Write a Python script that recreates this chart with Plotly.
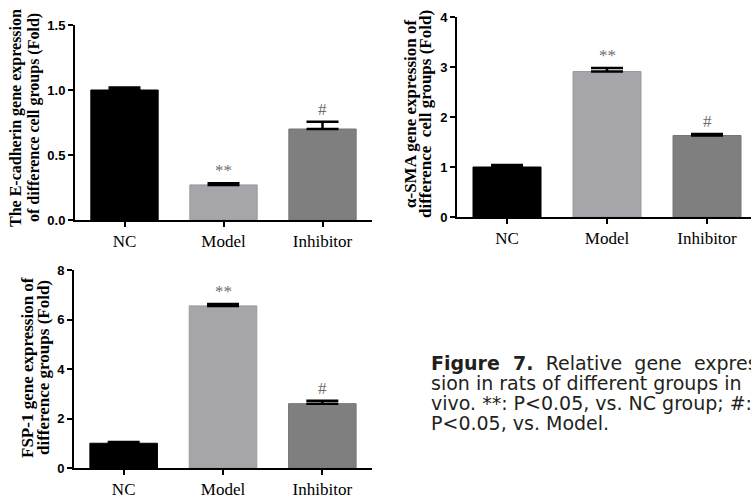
import plotly.graph_objects as go

categories = ["NC", "Model", "Inhibitor"]

ecad_values = [1.00, 0.27, 0.70]
ecad_err = [0.02, 0.012, 0.055]

sma_values = [1.00, 2.91, 1.63]
sma_err = [0.04, 0.07, 0.03]

fsp_values = [1.00, 6.55, 2.60]
fsp_err = [0.05, 0.08, 0.12]

marks = ["", "**", "#"]

bar_colors = ["#000000", "#a5a5aa", "#7f7f7f"]
line_colors = ["#000000", "#9a9a9e", "#767676"]

panels = [
    dict(vals=ecad_values, err=ecad_err, xa="x", ya="y",
         xdom=[75/751, 372/751], ydom=[280/500, 475/500], yrange=[0, 1.5],
         xrange=[-0.5, 2.5], tickvals=[0, 0.5, 1.0, 1.5], ticktext=["0.0", "0.5", "1.0", "1.5"],
         titles=["The E-cadherin gene expression", "of difference cell groups (Fold)"],
         title_x=[16, 34], title_y=118, title_size=16),
    dict(vals=sma_values, err=sma_err, xa="x2", ya="y2",
         xdom=[457/751, 1.0], ydom=[283/500, 483/500], yrange=[0, 4],
         xrange=[-0.5, 2.44], tickvals=[0, 1, 2, 3, 4], ticktext=["0", "1", "2", "3", "4"],
         titles=["α-SMA gene expression of", "difference  cell groups (Fold)"],
         title_x=[411, 426], title_y=114, title_size=17),
    dict(vals=fsp_values, err=fsp_err, xa="x3", ya="y3",
         xdom=[74/751, 372/751], ydom=[32/500, 230/500], yrange=[0, 8],
         xrange=[-0.5, 2.5], tickvals=[0, 2, 4, 6, 8], ticktext=["0", "2", "4", "6", "8"],
         titles=["FSP-1 gene expression of", "difference groups (Fold)"],
         title_x=[27, 43], title_y=368, title_size=17),
]

fig = go.Figure()
layout = {}
annotations = []

for i, p in enumerate(panels):
    fig.add_trace(go.Bar(
        x=categories, y=p["vals"], xaxis=p["xa"], yaxis=p["ya"],
        width=0.68,
        marker=dict(color=bar_colors, line=dict(color=line_colors, width=1)),
        error_y=dict(type="data", symmetric=False, array=p["err"],
                     arrayminus=[0, 0, 0], color="#000000", thickness=2.5, width=16),
        showlegend=False, hoverinfo="skip",
    ))
    suffix = "" if i == 0 else str(i + 1)
    layout["xaxis" + suffix] = dict(
        domain=p["xdom"], anchor="y" + suffix, range=p["xrange"],
        showline=True, linecolor="#000000", linewidth=2,
        ticks="outside", ticklen=5, tickwidth=2, tickcolor="#000000",
        showgrid=False, zeroline=False, fixedrange=True, automargin=False,
        tickfont=dict(family="Liberation Serif", size=17, color="#000000"),
    )
    layout["yaxis" + suffix] = dict(
        domain=p["ydom"], anchor="x" + suffix, range=p["yrange"],
        tickvals=p["tickvals"], ticktext=p["ticktext"],
        showline=True, linecolor="#000000", linewidth=2,
        ticks="outside", ticklen=5, tickwidth=2, tickcolor="#000000",
        showgrid=False, zeroline=False, fixedrange=True, automargin=False,
        tickfont=dict(family="Liberation Sans", size=13, color="#000000", weight="bold"),
    )
    for t, tx in zip(p["titles"], p["title_x"]):
        annotations.append(dict(
            x=tx/751, y=(500 - p["title_y"])/500, xref="paper", yref="paper",
            xanchor="center", yanchor="middle", textangle=-90, showarrow=False,
            text="<b>" + t + "</b>",
            font=dict(family="Liberation Serif", size=p["title_size"], color="#000000"),
        ))
    for j, m in enumerate(marks):
        if m:
            annotations.append(dict(
                x=categories[j], y=p["vals"][j] + p["err"][j],
                xref=p["xa"], yref=p["ya"], text=m, showarrow=False,
                yanchor="bottom", yshift=1,
                font=dict(family="Liberation Serif", size=17, color="#6e6e6e"),
            ))

caption_lines = [
    "<b>Figure&nbsp;&nbsp;7.</b>&nbsp;&nbsp;Relative&nbsp;&nbsp;gene&nbsp;&nbsp;expres-",
    "sion in rats of different groups in",
    "vivo. **: P&lt;0.05, vs. NC group; #:",
    "P&lt;0.05, vs. Model.",
]
for k, line in enumerate(caption_lines):
    annotations.append(dict(
        x=429/751, y=(500 - (371 + 20*k))/500, xref="paper", yref="paper",
        xanchor="left", yanchor="bottom", yshift=-5, showarrow=False, align="left",
        text=line, font=dict(family="DejaVu Sans", size=19, color="#231f20"),
    ))

fig.update_layout(
    width=751, height=500,
    margin=dict(l=0, r=0, t=0, b=0),
    paper_bgcolor="#ffffff", plot_bgcolor="#ffffff",
    annotations=annotations,
    **layout,
)

fig.write_html("out.html", config={"displayModeBar": False},
               post_script="document.body.style.margin='0';document.body.style.overflow='hidden';")
